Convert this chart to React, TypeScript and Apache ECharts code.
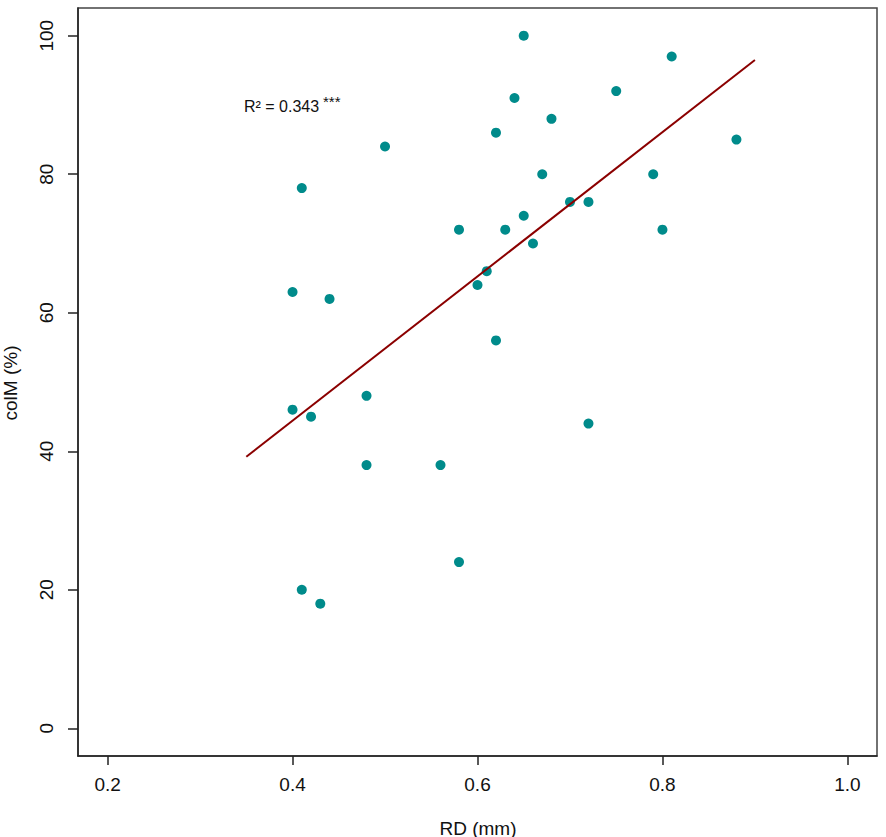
import React, { useEffect, useRef } from "react";
import * as echarts from "echarts";

// RD (mm) and colM (%) values
const rd = [0.65, 0.81, 0.75, 0.64, 0.68, 0.62, 0.88, 0.5, 0.67, 0.79, 0.41, 0.7, 0.72, 0.65, 0.58, 0.63, 0.8, 0.66, 0.61, 0.6, 0.4, 0.44, 0.62, 0.48, 0.4, 0.42, 0.72, 0.48, 0.56, 0.58, 0.41, 0.43];
const colM = [100, 97, 92, 91, 88, 86, 85, 84, 80, 80, 78, 76, 76, 74, 72, 72, 72, 70, 66, 64, 63, 62, 56, 48, 46, 45, 44, 38, 38, 24, 20, 18];

// Regression line end points
const fitX = [0.35, 0.9];
const fitY = [39.2, 96.5];

// Tick values
const xTicks = [0.2, 0.4, 0.6, 0.8, 1.0];
const yTicks = [0, 20, 40, 60, 80, 100];

const FONT = '"Liberation Sans", Arial, Helvetica, sans-serif';

export default function App() {
  const ref = useRef<HTMLDivElement>(null);
  useEffect(() => {
    if (!ref.current) return;
    const chart = echarts.init(ref.current, null, { renderer: "svg" });
    const axisColor = "#222";
    chart.setOption({
      animation: false,
      backgroundColor: "#ffffff",
      textStyle: { fontFamily: FONT },
      grid: {
        left: 78,
        top: 8,
        right: 9,
        bottom: 81,
        show: true,
        borderColor: "#444",
        borderWidth: 1.5,
        containLabel: false,
      },
      xAxis: {
        type: "value",
        min: 0.168,
        max: 1.032,
        splitLine: { show: false },
        axisLine: { show: true, onZero: false, lineStyle: { color: axisColor, width: 1.5 } },
        axisTick: {
          show: true,
          customValues: xTicks,
          length: 9,
          lineStyle: { color: axisColor, width: 1.5 },
        },
        axisLabel: {
          customValues: xTicks,
          formatter: (v: number) => v.toFixed(1),
          fontSize: 19,
          margin: 19,
          color: "#111",
          fontFamily: FONT,
        },
      },
      yAxis: {
        type: "value",
        min: -4,
        max: 104,
        splitLine: { show: false },
        axisLine: { show: true, onZero: false, lineStyle: { color: axisColor, width: 1.5 } },
        axisTick: {
          show: true,
          customValues: yTicks,
          length: 10,
          lineStyle: { color: axisColor, width: 1.5 },
        },
        axisLabel: {
          customValues: yTicks,
          rotate: 90,
          fontSize: 19,
          margin: 22,
          color: "#111",
          fontFamily: FONT,
        },
      },
      series: [
        {
          type: "scatter",
          data: rd.map((x, i) => [x, colM[i]]),
          symbol: "circle",
          symbolSize: 10,
          itemStyle: { color: "#008B8B", opacity: 1 },
          z: 2,
        },
        {
          type: "line",
          data: fitX.map((x, i) => [x, fitY[i]]),
          showSymbol: false,
          symbol: "none",
          lineStyle: { color: "#8B0000", width: 2 },
          z: 3,
        },
      ],
      graphic: [
        {
          type: "text",
          x: 244,
          y: 106,
          style: {
            text: "R² = 0.343",
            fontSize: 16,
            fontFamily: FONT,
            fill: "#111",
            textAlign: "left",
            textVerticalAlign: "middle",
          },
        },
        {
          type: "text",
          x: 323,
          y: 101,
          style: {
            text: "***",
            fontSize: 15,
            fontFamily: FONT,
            fill: "#111",
            textAlign: "left",
            textVerticalAlign: "middle",
          },
        },
        {
          type: "text",
          x: 478,
          y: 828,
          style: {
            text: "RD (mm)",
            fontSize: 19,
            fontFamily: FONT,
            fill: "#111",
            textAlign: "center",
            textVerticalAlign: "middle",
          },
        },
        {
          type: "text",
          x: 10,
          y: 383,
          rotation: Math.PI / 2,
          style: {
            text: "colM (%)",
            fontSize: 19,
            fontFamily: FONT,
            fill: "#111",
            textAlign: "center",
            textVerticalAlign: "middle",
          },
        },
      ],
    });
    return () => chart.dispose();
  }, []);
  return (
    <div
      ref={ref}
      style={{ position: "absolute", left: 0, top: 0, width: 886, height: 837 }}
    />
  );
}
